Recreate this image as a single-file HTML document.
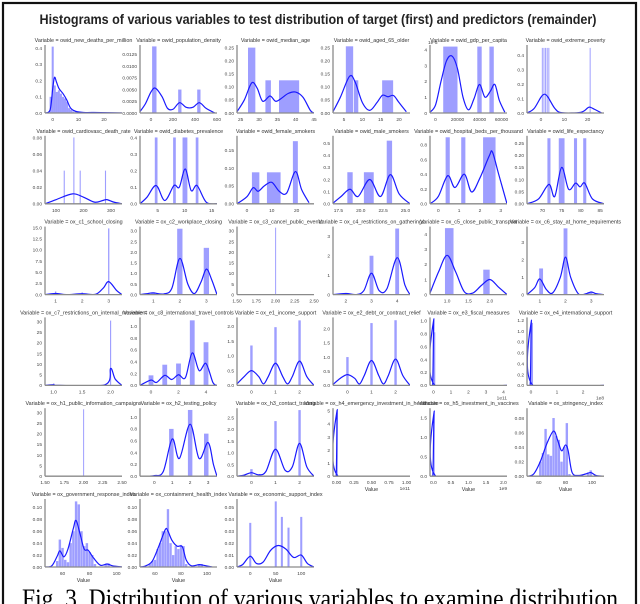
<!DOCTYPE html>
<html><head><meta charset="utf-8">
<style>
html,body{margin:0;padding:0;background:#fff;}
svg{display:block;font-family:"Liberation Sans",sans-serif;}
</style></head>
<body>
<svg id="fig" width="640" height="604" viewBox="0 0 640 604">
<rect x="3" y="3" width="633" height="620" fill="none" stroke="#111" stroke-width="2.2"/>
<text x="318" y="24" text-anchor="middle" font-size="13.5" font-weight="bold" textLength="557" lengthAdjust="spacingAndGlyphs" fill="#222">Histograms of various variables to test distribution of target (first) and predictors (remainder)</text>
<text x="320" y="607" text-anchor="middle" font-family="Liberation Serif, serif" font-size="26" textLength="596" lengthAdjust="spacingAndGlyphs" fill="#000">Fig. 3. Distribution of various variables to examine distribution</text>
<g id="panels"></g>
</svg>
<script>
const panelTitles=["owid_new_deaths_per_million","owid_population_density","owid_median_age","owid_aged_65_older","owid_gdp_per_capita","owid_extreme_poverty",
"owid_cardiovasc_death_rate","owid_diabetes_prevalence","owid_female_smokers","owid_male_smokers","owid_hospital_beds_per_thousand","owid_life_expectancy",
"ox_c1_school_closing","ox_c2_workplace_closing","ox_c3_cancel_public_events","ox_c4_restrictions_on_gatherings","ox_c5_close_public_transport","ox_c6_stay_at_home_requirements",
"ox_c7_restrictions_on_internal_movement","ox_c8_international_travel_controls","ox_e1_income_support","ox_e2_debt_or_contract_relief","ox_e3_fiscal_measures","ox_e4_international_support",
"ox_h1_public_information_campaigns","ox_h2_testing_policy","ox_h3_contact_tracing","ox_h4_emergency_investment_in_healthcare","ox_h5_investment_in_vaccines","ox_stringency_index",
"ox_government_response_index","ox_containment_health_index","ox_economic_support_index"];
const xRanges=[[-3,27],[-100,600],[24,45],[2,23],[-5000,65000],[-6,27],
[60,340],[1.7,16],[-4,27],[16.9,25.5],[-0.4,3.3],[66,86],
[0.6,3.5],[0.5,3.4],[1.5,2.5],[1.5,4.5],[0.6,2.4],[0.5,3.5],
[0.85,2.2],[-0.8,4.8],[-0.6,2.6],[-0.6,2.6],[-0.2,4.2],[-0.15,2.8],
[1.5,2.5],[-0.8,3.5],[-0.6,2.6],[-0.05,1.05],[-0.1,2.1],[51,109],
[47,104],[48.5,107.7],[-26,125]];
const yMaxes=[0.42,0.0145,0.26,0.26,4.3,0.47,
0.082,0.41,0.19,0.56,0.92,0.28,
15.2,3.2,32,3.5,4.5,3.9,
32,1.15,2.3,2.4,1.05,1.25,
32,1.15,2.9,5.2,1.75,0.0935,
0.114,0.114,0.057];
const xTickLabels=[["0","10","20"],["0","200","400","600"],["25","30","35","40","45"],["5","10","15","20"],["0","20000","40000","60000"],["0","10","20"],
["100","200","300"],["5","10","15"],["0","10","20"],["17.5","20.0","22.5","25.0"],["0","1","2","3"],["70","75","80","85"],
["1","2","3"],["1","2","3"],["1.50","1.75","2.00","2.25","2.50"],["2","3","4"],["1.0","1.5","2.0"],["1","2","3"],
["1.0","1.5","2.0"],["0","2","4"],["0","1","2"],["0","1","2"],["0","1","2","3","4"],["0","1","2"],
["1.50","1.75","2.00","2.25","2.50"],["0","1","2","3"],["0","1","2"],["0.00","0.25","0.50","0.75","1.00"],["0.0","0.5","1.0","1.5","2.0"],["60","80","100"],
["60","80","100"],["60","80","100"],["0","50","100"]];
const yTickLabels=[["0.0","0.1","0.2","0.3","0.4"],["0.0000","0.0025","0.0050","0.0075","0.0100","0.0125"],["0.00","0.05","0.10","0.15","0.20","0.25"],["0.00","0.05","0.10","0.15","0.20","0.25"],["0","1","2","3","4"],["0.0","0.1","0.2","0.3","0.4"],
["0.00","0.02","0.04","0.06","0.08"],["0.0","0.1","0.2","0.3","0.4"],["0.00","0.05","0.10","0.15"],["0.0","0.1","0.2","0.3","0.4","0.5"],["0.0","0.2","0.4","0.6","0.8"],["0.00","0.05","0.10","0.15","0.20","0.25"],
["0.0","2.5","5.0","7.5","10.0","12.5","15.0"],["0.0","0.5","1.0","1.5","2.0","2.5","3.0"],["0","5","10","15","20","25","30"],["0","1","2","3"],["0","1","2","3","4"],["0","1","2","3"],
["0","5","10","15","20","25","30"],["0.0","0.2","0.4","0.6","0.8","1.0"],["0.0","0.5","1.0","1.5","2.0"],["0.0","0.5","1.0","1.5","2.0"],["0.0","0.2","0.4","0.6","0.8","1.0"],["0.0","0.2","0.4","0.6","0.8","1.0","1.2"],
["0","5","10","15","20","25","30"],["0.0","0.2","0.4","0.6","0.8","1.0"],["0.0","0.5","1.0","1.5","2.0","2.5"],["0","1","2","3","4","5"],["0.0","0.5","1.0","1.5"],["0.00","0.02","0.04","0.06","0.08"],
["0.00","0.02","0.04","0.06","0.08","0.10"],["0.00","0.02","0.04","0.06","0.08","0.10"],["0.00","0.01","0.02","0.03","0.04","0.05"]];
const offsetLabels=["","","","","1e-5","","","","","","","","","","","","","","","","","","1e11","1e8","","","","1e11","1e9","","","",""];
// bars: [center, width, height]
const barData=[
[[-0.8,0.8,0.1],[0,0.8,0.41],[0.8,0.8,0.17],[1.6,0.8,0.13],[2.4,0.8,0.14],[3.2,0.8,0.12],[4,0.8,0.1],[4.8,0.8,0.09],[5.6,0.8,0.07],[6.4,0.8,0.03],[7.2,0.8,0.02],[8,0.8,0.01],[9,0.8,0.01],[15,0.8,0.005]],
[[30,40,0.0142],[262,30,0.005],[435,30,0.005]],
[[28,2,0.25],[32.5,1.5,0.125],[38.2,5.5,0.125]],
[[6.5,2,0.255],[8.3,1.2,0.125],[16.9,3,0.125]],
[[13500,13000,4.2],[40000,4000,4.2],[51000,4000,4.2]],
[[0.5,0.3,0.45],[1.2,0.3,0.45],[1.9,0.3,0.45],[2.6,0.3,0.45],[3.3,0.3,0.45],[21,0.3,0.45]],
[[130,4,0.04],[165,4,0.08],[188,4,0.04],[280,4,0.04]],
[[4.7,0.5,0.4],[8.1,0.5,0.4],[10.05,0.9,0.4],[12.3,0.5,0.4]],
[[3.5,3,0.088],[10.8,5.5,0.088],[19.5,2,0.175]],
[[18.8,0.6,0.26],[20.9,1.1,0.26],[23.2,0.6,0.52]],
[[0.45,0.2,0.9],[1.2,0.2,0.9],[2.45,0.6,0.9]],
[[71.7,0.8,0.27],[75,1.5,0.27],[78.6,0.8,0.27],[81,0.8,0.27]],
[[1,0.05,0.7],[2,0.05,0.5],[3,0.05,14.8]],
[[1,0.15,0.05],[2,0.2,3.1],[3,0.2,2.2]],
[[2,0.01,31.5]],
[[3,0.15,2],[4,0.15,3.4]],
[[1.05,0.2,4.4],[1.92,0.15,1.65]],
[[1.05,0.15,1.5],[2,0.15,3.8],[2.95,0.2,0.15]],
[[1,0.01,1],[2,0.02,30.5]],
[[0,0.35,0.17],[1,0.35,0.35],[2,0.35,0.37],[3,0.35,1.1],[4,0.35,0.73]],
[[0,0.1,1.35],[1,0.1,1.97],[2,0.1,2.2]],
[[0,0.1,1],[1,0.1,2.2],[2,0.1,2.3]],
[[0.02,0.05,1.03],[0.07,0.05,0.82]],
[[0.02,0.04,1.2],[0.06,0.04,1.15]],
[[2,0.01,31.5]],
[[0.95,0.25,0.8],[2,0.25,1.12],[2.9,0.25,0.72]],
[[0,0.1,0.3],[1,0.1,2.35],[2,0.1,2.82]],
[[0.01,0.01,5.1]],
[[0.02,0.03,1.68]],
[[61,1.8,0.02],[63,1.8,0.032],[65,1.8,0.065],[67,1.8,0.03],[69,1.8,0.028],[71,1.8,0.08],[73,1.8,0.055],[75,1.8,0.05],[77,1.8,0.02],[79,1.8,0.04],[81,1.8,0.073],[83,1.8,0.003],[97,1.8,0.005],[99,1.8,0.008]],
[[56,1.8,0.01],[58,1.8,0.046],[60,1.8,0.032],[62,1.8,0.012],[64,1.8,0.008],[66,1.8,0.04],[68,1.8,0.06],[70,1.8,0.11],[72,1.8,0.105],[74,1.8,0.06],[76,1.8,0.035],[78,1.8,0.04],[80,1.8,0.025],[82,1.8,0.02],[84,1.8,0.005],[92,1.8,0.005],[94,1.8,0.006]],
[[56,1.8,0.005],[58,1.8,0.01],[60,1.8,0.012],[62,1.8,0.03],[64,1.8,0.04],[66,1.8,0.06],[68,1.8,0.06],[70,1.8,0.097],[72,1.8,0.04],[74,1.8,0.02],[76,1.8,0.035],[78,1.8,0.03],[80,1.8,0.037],[82,1.8,0.035],[84,1.8,0.005],[94,1.8,0.004],[96,1.8,0.005]],
[[0,4,0.037],[50,4,0.055],[62,4,0.042],[75,4,0.033],[100,4,0.042]]];
// kde points: [x, density]
const kdeData=[
[[-3,0],[-1,0.02],[0,0.15],[0.7,0.22],[1.5,0.19],[2.5,0.15],[4,0.12],[5.5,0.08],[7,0.03],[9,0.01],[12,0.003],[16,0.003],[27,0]],
[[-100,0.0003],[-50,0.002],[0,0.0045],[40,0.0053],[100,0.0035],[150,0.001],[200,0.0008],[260,0.0022],[320,0.0012],[380,0.0012],[440,0.0022],[500,0.001],[580,0]],
[[24,0.005],[26,0.05],[28,0.115],[29.5,0.095],[31,0.045],[33,0.065],[34.5,0.045],[36,0.055],[38,0.075],[40,0.08],[42,0.06],[44,0.01],[45,0]],
[[2,0.005],[4,0.06],[6.5,0.14],[8,0.12],[10,0.04],[12,0.01],[14,0.04],[15.5,0.068],[17,0.062],[18.5,0.067],[20,0.04],[22,0.005]],
[[-5000,0.05],[0,0.5],[5000,2],[10000,3.3],[15000,3.6],[20000,2.8],[25000,1],[30000,0.2],[35000,0.9],[40000,1.8],[45000,1],[50000,1.4],[54000,1.8],[58000,0.8],[63000,0.05]],
[[-6,0],[-3,0.03],[0,0.11],[1.5,0.13],[3,0.11],[6,0.03],[9,0.002],[17,0.005],[20,0.035],[21,0.04],[23,0.025],[26,0]],
[[60,0],[100,0.005],[160,0.012],[200,0.008],[240,0.002],[270,0.004],[285,0.005],[310,0.002],[340,0]],
[[1.7,0],[3,0.04],[4.7,0.11],[6.3,0.02],[8,0.11],[9,0.1],[10.1,0.21],[11.2,0.08],[12.3,0.11],[14,0.01],[16,0]],
[[-4,0],[0,0.02],[2.5,0.045],[4.5,0.035],[7,0.05],[10,0.06],[13,0.035],[16,0.03],[19.5,0.09],[22,0.04],[25,0.003]],
[[16.9,0.005],[17.8,0.06],[18.8,0.12],[19.7,0.06],[21,0.2],[22.2,0.06],[23.3,0.24],[24.3,0.08],[25.5,0]],
[[-0.4,0],[0,0.1],[0.45,0.38],[0.8,0.22],[1.25,0.4],[1.6,0.16],[2,0.35],[2.45,0.65],[2.6,0.7],[2.9,0.4],[3.3,0]],
[[66,0],[69,0.02],[71.7,0.08],[73.2,0.03],[75,0.15],[76.8,0.06],[78.6,0.085],[79.8,0.07],[81,0.085],[83,0.02],[86,0]],
[[0.6,0],[1,0.25],[1.4,0],[2,0.2],[2.5,0.05],[2.8,1.5],[3,2.9],[3.3,0.9],[3.5,0]],
[[0.5,0],[0.8,0.05],[1,0.08],[1.4,0.03],[1.7,0.3],[2,1.7],[2.3,0.5],[2.55,0.05],[2.8,0.6],[3,1.2],[3.2,0.7],[3.4,0]],
[],
[[1.5,0],[2,0.06],[2.4,0],[2.7,0.2],[3,1.1],[3.3,0.2],[3.6,0.3],[4,1.9],[4.3,0.5],[4.5,0]],
[[0.6,0.1],[0.8,1.5],[1,2.6],[1.2,1.5],[1.4,0.2],[1.6,0.1],[1.8,0.6],[2,1],[2.2,0.5],[2.4,0]],
[[0.5,0],[0.8,0.4],[1,0.9],[1.25,0.3],[1.5,0.1],[1.8,1],[2,2.15],[2.2,1],[2.5,0.05],[2.8,0.05],[3,0.15],[3.2,0.05],[3.5,0]],
[[0.85,0],[1,0.3],[1.1,0],[1.9,0.3],[2,8],[2.08,3],[2.2,0]],
[[-0.8,0],[0,0.09],[0.4,0.05],[1,0.17],[1.5,0.1],[2,0.18],[2.5,0.13],[3,0.55],[3.5,0.25],[4,0.37],[4.5,0.05],[4.8,0]],
[[-0.6,0.05],[-0.3,0.3],[0,0.5],[0.3,0.3],[0.5,0.05],[0.7,0.3],[1,0.75],[1.3,0.3],[1.5,0.05],[1.7,0.3],[2,0.82],[2.3,0.3],[2.6,0]],
[[-0.6,0.03],[-0.3,0.25],[0,0.38],[0.3,0.25],[0.5,0.05],[0.7,0.35],[1,0.88],[1.3,0.35],[1.5,0.05],[1.7,0.35],[2,0.93],[2.3,0.35],[2.6,0]],
[[-0.2,0],[-0.05,0],[0.02,1.03],[0.09,0],[4.2,0]],
[[-0.15,0],[-0.03,0],[0.02,1.2],[0.08,0],[2.8,0]],
[],
[[-0.5,0],[0,0.01],[0.5,0.08],[1,0.63],[1.4,0.3],[2,0.88],[2.5,0.3],[3,0.57],[3.3,0.2],[3.5,0]],
[[-0.6,0],[-0.3,0.05],[0,0.15],[0.3,0.06],[0.6,0.2],[1,1.15],[1.4,0.25],[1.7,0.4],[2,1.4],[2.3,0.4],[2.6,0]],
[[-0.05,0],[-0.005,0],[0.01,5.1],[0.025,0],[1.05,0]],
[[-0.1,0],[-0.02,0],[0.02,1.68],[0.07,0],[2.1,0]],
[[51,0],[56,0.003],[61,0.02],[66,0.045],[71,0.062],[74,0.05],[77,0.035],[80,0.043],[82,0.035],[85,0.005],[90,0.001],[95,0.003],[99,0.005],[103,0.001],[109,0]],
[[47,0],[52,0.002],[56,0.018],[58,0.027],[61,0.017],[64,0.03],[68,0.065],[70,0.078],[73,0.055],[76,0.03],[79,0.028],[83,0.015],[88,0.003],[93,0.005],[97,0.002],[104,0]],
[[48.5,0],[53,0.002],[58,0.01],[63,0.035],[68,0.063],[70,0.06],[73,0.045],[77,0.035],[81,0.034],[84,0.012],[88,0.002],[94,0.004],[97,0.003],[104,0]],
[[-26,0],[-15,0.002],[0,0.009],[12,0.003],[25,0.004],[40,0.014],[55,0.018],[70,0.015],[85,0.008],[100,0.01],[112,0.003],[125,0]]];

const NS="http://www.w3.org/2000/svg";
const colX=[45,140,237,333,430,527], PW=77, PH=68;
const root=document.getElementById('panels');
function mk(tag,attrs,parent){const e=document.createElementNS(NS,tag);for(const k in attrs)e.setAttribute(k,attrs[k]);parent.appendChild(e);return e;}
function smooth(pts){
  if(!pts.length) return "";
  let d="M"+pts[0][0].toFixed(2)+","+pts[0][1].toFixed(2);
  for(let i=0;i<pts.length-1;i++){
    const p0=pts[Math.max(0,i-1)],p1=pts[i],p2=pts[i+1],p3=pts[Math.min(pts.length-1,i+2)];
    const c1x=p1[0]+(p2[0]-p0[0])/6,c1y=p1[1]+(p2[1]-p0[1])/6;
    const c2x=p2[0]-(p3[0]-p1[0])/6,c2y=p2[1]-(p3[1]-p1[1])/6;
    d+=" C"+c1x.toFixed(2)+","+c1y.toFixed(2)+" "+c2x.toFixed(2)+","+c2y.toFixed(2)+" "+p2[0].toFixed(2)+","+p2[1].toFixed(2);
  }
  return d;
}
panelTitles.forEach((title,i)=>{
  const r=Math.floor(i/6), c=i%6;
  const x0=colX[c], y0=45+90.8*r;
  const [xmin,xmax]=xRanges[i], ymax=yMaxes[i];
  const sx=v=>x0+(v-xmin)/(xmax-xmin)*PW;
  const sy=v=>y0+PH-v/ymax*PH;
  const g=mk('g',{},root);
  
  
  const cp=mk('clipPath',{id:'cp'+i},g);
  mk('rect',{x:x0,y:y0-2,width:PW,height:PH+2},cp);
  const t=mk('text',{x:x0+PW/2,y:y0-3,'text-anchor':'middle','font-size':5.4,fill:'#333'},g);
  t.textContent='Variable = '+title;
  
  
  const bg=mk('g',{'clip-path':'url(#cp'+i+')'},g);
  barData[i].forEach(b=>{
    const left=sx(b[0]-b[1]/2), right=sx(b[0]+b[1]/2);
    const w=Math.max(1,right-left);
    const rc=mk('rect',{x:left,y:sy(b[2]),width:w,height:PH-(sy(b[2])-y0),fill:'#0000ff','fill-opacity':0.38},bg);
    
    
  });
  if(kdeData[i].length){
    const p=mk('path',{d:smooth(kdeData[i].map(q=>[sx(q[0]),sy(q[1])])),fill:'none',stroke:'#1a1aff','stroke-width':1.2},bg);
    
    
  }
  const sl=mk('line',{x1:x0,y1:y0,x2:x0,y2:y0+PH,stroke:'#8a8a8a','stroke-width':1.3},g);
  
  
  const sb=mk('line',{x1:x0,y1:y0+PH,x2:x0+PW,y2:y0+PH,stroke:'#8a8a8a','stroke-width':1.3},g);
  
  
  yTickLabels[i].forEach(l=>{
    const tt=mk('text',{x:x0-3,y:sy(parseFloat(l))+1.8,'text-anchor':'end','font-size':4.8,fill:'#444'},g);
    tt.textContent=l;
    
    
  });
  xTickLabels[i].forEach(l=>{
    const tt=mk('text',{x:sx(parseFloat(l)),y:y0+PH+8,'text-anchor':'middle','font-size':4.8,fill:'#444'},g);
    tt.textContent=l;
    
    
  });
  if(offsetLabels[i]){
    const isY=offsetLabels[i]==="1e-5";
    const ot=mk('text',{x:isY?x0-2:x0+PW,y:isY?y0-1:y0+PH+14,'text-anchor':isY?'start':'end','font-size':4.8,fill:'#444'},g);
    ot.textContent=offsetLabels[i];
    
    
  }
  if(i>=27){
    const vl=mk('text',{x:x0+PW/2,y:y0+PH+15,'text-anchor':'middle','font-size':5.4,fill:'#333'},g);
    vl.textContent='Value';
    
    
  }
});
</script>
</body></html>
